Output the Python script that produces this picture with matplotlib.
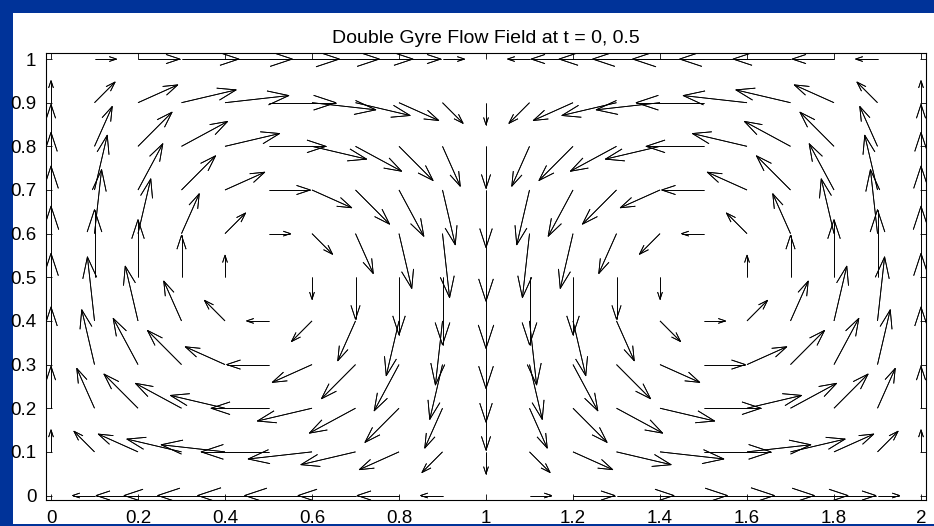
import numpy as np
import matplotlib
matplotlib.use("Agg")
import matplotlib.pyplot as plt
from matplotlib.collections import LineCollection
from matplotlib.patches import Rectangle

# Grid of the quiver plot
x_values = [0.0, 0.1, 0.2, 0.3, 0.4, 0.5, 0.6, 0.7, 0.8, 0.9, 1.0,
            1.1, 1.2, 1.3, 1.4, 1.5, 1.6, 1.7, 1.8, 1.9, 2.0]
y_values = [0.0, 0.1, 0.2, 0.3, 0.4, 0.5, 0.6, 0.7, 0.8, 0.9, 1.0]

# Velocity components (units of pi*A), one row per y value
u_rows = [
    [0, -0.31, -0.59, -0.81, -0.95, -1.00, -0.95, -0.81, -0.59, -0.31, 0, 0.31, 0.59, 0.81, 0.95, 1.00, 0.95, 0.81, 0.59, 0.31, 0],
    [0, -0.29, -0.56, -0.77, -0.90, -0.95, -0.90, -0.77, -0.56, -0.29, 0, 0.29, 0.56, 0.77, 0.90, 0.95, 0.90, 0.77, 0.56, 0.29, 0],
    [0, -0.25, -0.48, -0.65, -0.77, -0.81, -0.77, -0.65, -0.48, -0.25, 0, 0.25, 0.48, 0.65, 0.77, 0.81, 0.77, 0.65, 0.48, 0.25, 0],
    [0, -0.18, -0.35, -0.48, -0.56, -0.59, -0.56, -0.48, -0.35, -0.18, 0, 0.18, 0.35, 0.48, 0.56, 0.59, 0.56, 0.48, 0.35, 0.18, 0],
    [0, -0.10, -0.18, -0.25, -0.29, -0.31, -0.29, -0.25, -0.18, -0.10, 0, 0.10, 0.18, 0.25, 0.29, 0.31, 0.29, 0.25, 0.18, 0.10, 0],
    [0, 0, 0, 0, 0, 0, 0, 0, 0, 0, 0, 0, 0, 0, 0, 0, 0, 0, 0, 0, 0],
    [0, 0.10, 0.18, 0.25, 0.29, 0.31, 0.29, 0.25, 0.18, 0.10, 0, -0.10, -0.18, -0.25, -0.29, -0.31, -0.29, -0.25, -0.18, -0.10, 0],
    [0, 0.18, 0.35, 0.48, 0.56, 0.59, 0.56, 0.48, 0.35, 0.18, 0, -0.18, -0.35, -0.48, -0.56, -0.59, -0.56, -0.48, -0.35, -0.18, 0],
    [0, 0.25, 0.48, 0.65, 0.77, 0.81, 0.77, 0.65, 0.48, 0.25, 0, -0.25, -0.48, -0.65, -0.77, -0.81, -0.77, -0.65, -0.48, -0.25, 0],
    [0, 0.29, 0.56, 0.77, 0.90, 0.95, 0.90, 0.77, 0.56, 0.29, 0, -0.29, -0.56, -0.77, -0.90, -0.95, -0.90, -0.77, -0.56, -0.29, 0],
    [0, 0.31, 0.59, 0.81, 0.95, 1.00, 0.95, 0.81, 0.59, 0.31, 0, -0.31, -0.59, -0.81, -0.95, -1.00, -0.95, -0.81, -0.59, -0.31, 0],
]
v_rows = [
    [0, 0, 0, 0, 0, 0, 0, 0, 0, 0, 0, 0, 0, 0, 0, 0, 0, 0, 0, 0, 0],
    [0.31, 0.29, 0.25, 0.18, 0.10, 0, -0.10, -0.18, -0.25, -0.29, -0.31, -0.29, -0.25, -0.18, -0.10, 0, 0.10, 0.18, 0.25, 0.29, 0.31],
    [0.59, 0.56, 0.48, 0.35, 0.18, 0, -0.18, -0.35, -0.48, -0.56, -0.59, -0.56, -0.48, -0.35, -0.18, 0, 0.18, 0.35, 0.48, 0.56, 0.59],
    [0.81, 0.77, 0.65, 0.48, 0.25, 0, -0.25, -0.48, -0.65, -0.77, -0.81, -0.77, -0.65, -0.48, -0.25, 0, 0.25, 0.48, 0.65, 0.77, 0.81],
    [0.95, 0.90, 0.77, 0.56, 0.29, 0, -0.29, -0.56, -0.77, -0.90, -0.95, -0.90, -0.77, -0.56, -0.29, 0, 0.29, 0.56, 0.77, 0.90, 0.95],
    [1.00, 0.95, 0.81, 0.59, 0.31, 0, -0.31, -0.59, -0.81, -0.95, -1.00, -0.95, -0.81, -0.59, -0.31, 0, 0.31, 0.59, 0.81, 0.95, 1.00],
    [0.95, 0.90, 0.77, 0.56, 0.29, 0, -0.29, -0.56, -0.77, -0.90, -0.95, -0.90, -0.77, -0.56, -0.29, 0, 0.29, 0.56, 0.77, 0.90, 0.95],
    [0.81, 0.77, 0.65, 0.48, 0.25, 0, -0.25, -0.48, -0.65, -0.77, -0.81, -0.77, -0.65, -0.48, -0.25, 0, 0.25, 0.48, 0.65, 0.77, 0.81],
    [0.59, 0.56, 0.48, 0.35, 0.18, 0, -0.18, -0.35, -0.48, -0.56, -0.59, -0.56, -0.48, -0.35, -0.18, 0, 0.18, 0.35, 0.48, 0.56, 0.59],
    [0.31, 0.29, 0.25, 0.18, 0.10, 0, -0.10, -0.18, -0.25, -0.29, -0.31, -0.29, -0.25, -0.18, -0.10, 0, 0.10, 0.18, 0.25, 0.29, 0.31],
    [0, 0, 0, 0, 0, 0, 0, 0, 0, 0, 0, 0, 0, 0, 0, 0, 0, 0, 0, 0, 0],
]

x_ticks = [0, 0.2, 0.4, 0.6, 0.8, 1.0, 1.2, 1.4, 1.6, 1.8, 2.0]
x_tick_labels = ["0", "0.2", "0.4", "0.6", "0.8", "1", "1.2", "1.4", "1.6", "1.8", "2"]
y_ticks = [0, 0.1, 0.2, 0.3, 0.4, 0.5, 0.6, 0.7, 0.8, 0.9, 1.0]
y_tick_labels = ["0", "0.1", "0.2", "0.3", "0.4", "0.5", "0.6", "0.7", "0.8", "0.9", "1"]
title_text = "Double Gyre Flow Field at t = 0, 0.5"

plt.rcParams["font.family"] = ["Liberation Sans", "DejaVu Sans"]


def arrow_segments(x, y, u, v, scale, alpha=0.33, beta=0.33):
    """MATLAB-style quiver arrows: a shaft plus an open V head."""
    X, Y = np.meshgrid(x, y)
    U = np.asarray(u, dtype=float) * scale
    V = np.asarray(v, dtype=float) * scale
    tip_x, tip_y = X + U, Y + V
    shafts = np.stack([np.stack([X, Y], -1), np.stack([tip_x, tip_y], -1)], -2)
    left = np.stack([tip_x - alpha * (U + beta * V), tip_y - alpha * (V - beta * U)], -1)
    right = np.stack([tip_x - alpha * (U - beta * V), tip_y - alpha * (V + beta * U)], -1)
    tip = np.stack([tip_x, tip_y], -1)
    heads = np.stack([left, tip, right], -2)
    keep = (np.hypot(U, V) > 0).ravel()
    return list(shafts.reshape(-1, 2, 2)[keep]) + list(heads.reshape(-1, 3, 2)[keep])


fig = plt.figure(figsize=(9.34, 5.26), dpi=100, facecolor="#003399")
# white figure area sitting on the blue slide background
fig.patches.append(Rectangle((0.0134, 0.0038), 1.0, 0.9724, transform=fig.transFigure,
                             facecolor="white", edgecolor="none", zorder=-10))

ax = fig.add_axes([0.04925, 0.0494, 0.9422, 0.8498])
ax.set_facecolor("white")

# t = 0 and t = 0.5 give the same field, drawn on top of each other
for t in (0, 0.5):
    segs = arrow_segments(x_values, y_values, u_rows, v_rows, scale=0.163)
    ax.add_collection(LineCollection(segs, colors="black", linewidths=0.6))

ax.set_xlim(-0.0115, 2.0115)
ax.set_ylim(-0.0103, 1.0138)
ax.set_xticks(x_ticks)
ax.set_xticklabels(x_tick_labels)
ax.set_yticks(y_ticks)
ax.set_yticklabels(y_tick_labels)
ax.tick_params(direction="in", length=4.5, width=0.6, top=True, right=True,
               labelsize=13.5, colors="black", pad=7)
for spine in ax.spines.values():
    spine.set_linewidth(0.8)

ax.set_title(title_text, fontsize=14, pad=7)

fig.savefig("out.png", dpi=100, facecolor=fig.get_facecolor())
